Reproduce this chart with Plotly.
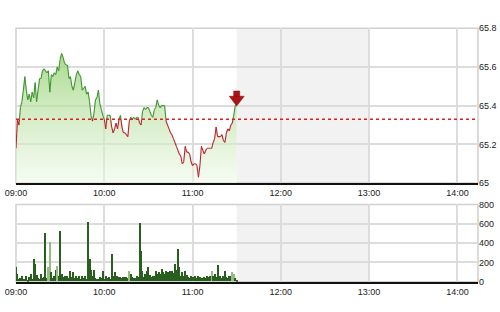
import plotly.graph_objects as go

# ---------------- data ----------------
# minutes after 09:00
price = [65.18, 65.33, 65.30, 65.39, 65.42, 65.48, 65.55, 65.48, 65.43, 65.46,
         65.42, 65.47, 65.44, 65.52, 65.42, 65.48, 65.54, 65.54, 65.58, 65.59,
         65.58, 65.57, 65.58, 65.47, 65.56, 65.55, 65.57, 65.56, 65.60, 65.58,
         65.64, 65.67, 65.65, 65.62, 65.61, 65.61, 65.54, 65.55, 65.50, 65.48,
         65.52, 65.56, 65.58, 65.56, 65.55, 65.48, 65.49, 65.50, 65.46, 65.47,
         65.42, 65.35, 65.32, 65.36, 65.43, 65.44, 65.48, 65.41, 65.38, 65.35,
         65.33, 65.28, 65.35, 65.35, 65.35, 65.29, 65.26, 65.28, 65.31, 65.28,
         65.33, 65.35, 65.29, 65.26, 65.26, 65.25, 65.24, 65.32, 65.34, 65.33,
         65.34, 65.33, 65.34, 65.34, 65.31, 65.30, 65.37, 65.39, 65.38, 65.39,
         65.39, 65.37, 65.35, 65.34, 65.38, 65.39, 65.43, 65.40, 65.39, 65.40,
         65.40, 65.40, 65.32, 65.30, 65.28, 65.26, 65.25, 65.23, 65.21, 65.19,
         65.17, 65.15, 65.14, 65.10, 65.11, 65.19, 65.16, 65.16, 65.15, 65.11,
         65.09, 65.10, 65.10, 65.09, 65.03, 65.09, 65.19, 65.17, 65.15, 65.17,
         65.18, 65.18, 65.18, 65.18, 65.21, 65.23, 65.29, 65.24, 65.24, 65.24,
         65.25, 65.22, 65.21, 65.26, 65.28, 65.27, 65.30, 65.31, 65.35, 65.40,
         65.40]
minutes = list(range(len(price)))

volume = [145, 80, 30, 40, 60, 25, 30, 53, 20, 47,
          73, 30, 230, 180, 63, 35, 30, 80, 40, 45,
          503, 40, 147, 403, 97, 40, 55, 120, 163, 60,
          523, 80, 45, 60, 35, 55, 40, 113, 50, 97,
          40, 55, 35, 53, 30, 55, 40, 55, 30, 613,
          230, 120, 60, 120, 40, 30, 25, 45, 35, 107,
          30, 55, 40, 45, 30, 280, 60, 97, 40, 55,
          50, 45, 35, 50, 45, 50, 35, 113, 80, 45,
          40, 35, 55, 45, 603, 313, 113, 45, 80, 113,
          147, 70, 45, 55, 60, 113, 80, 97, 80, 130,
          97, 80, 113, 97, 80, 113, 113, 90, 180, 120,
          330, 147, 60, 97, 55, 113, 70, 50, 40, 55,
          45, 40, 60, 35, 55, 45, 40, 35, 45, 40,
          55, 45, 60, 113, 60, 80, 50, 170, 45, 55,
          35, 60, 113, 50, 40, 60, 55, 97, 75, 40,
          20]
light_bars = [22, 23, 28, 77, 133, 147, 148]

ref_price = 65.33
tick_minutes = [0, 60, 120, 180, 240, 300]
tick_labels = ["09:00", "10:00", "11:00", "12:00", "13:00", "14:00"]
price_ticks = [65.0, 65.2, 65.4, 65.6, 65.8]
price_labels = ["65", "65.2", "65.4", "65.6", "65.8"]
vol_ticks = [0, 200, 400, 600, 800]
x_end = 314
lunch = (150, 240)

GREEN = "rgb(65,148,50)"
RED = "rgb(185,35,45)"

# ---------------- split line into green/red parts ----------------
gx, gy, rx, ry = [], [], [], []
for i in range(len(price) - 1):
    x0, y0, x1, y1 = minutes[i], price[i], minutes[i + 1], price[i + 1]
    a0, a1 = y0 >= ref_price, y1 >= ref_price
    if a0 == a1:
        tx, ty = (gx, gy) if a0 else (rx, ry)
        tx += [x0, x1, None]
        ty += [y0, y1, None]
    else:
        xc = x0 + (ref_price - y0) / (y1 - y0) * (x1 - x0)
        t0 = (gx, gy) if a0 else (rx, ry)
        t1 = (gx, gy) if a1 else (rx, ry)
        t0[0].extend([x0, xc, None]); t0[1].extend([y0, ref_price, None])
        t1[0].extend([xc, x1, None]); t1[1].extend([ref_price, y1, None])

fig = go.Figure()

# baseline for fill
fig.add_trace(go.Scatter(x=minutes, y=[price_ticks[0]] * len(minutes), mode="lines",
                         line=dict(width=0), hoverinfo="skip", showlegend=False,
                         xaxis="x", yaxis="y"))
fig.add_trace(go.Scatter(x=minutes, y=price, mode="lines", line=dict(width=0),
                         fill="tonexty",
                         fillgradient=dict(type="vertical",
                                           colorscale=[[0, "rgba(238,248,232,0.55)"],
                                                       [1, "rgba(150,210,115,0.8)"]]),
                         hoverinfo="skip", showlegend=False, xaxis="x", yaxis="y"))
fig.add_trace(go.Scatter(x=gx, y=gy, mode="lines", line=dict(color=GREEN, width=1.1),
                         hoverinfo="skip", showlegend=False, xaxis="x", yaxis="y"))
fig.add_trace(go.Scatter(x=rx, y=ry, mode="lines", line=dict(color=RED, width=1.1),
                         hoverinfo="skip", showlegend=False, xaxis="x", yaxis="y"))

# arrow marker above the last price
lx, ly = minutes[-1], price[-1]
fig.add_trace(go.Scatter(x=[lx], y=[ly + 0.06], mode="markers",
                         marker=dict(symbol="square", size=6, color="rgb(175,20,20)",
                                     line=dict(color="rgb(120,10,10)", width=0.5)),
                         hoverinfo="skip", showlegend=False, xaxis="x", yaxis="y"))
fig.add_trace(go.Scatter(x=[lx], y=[ly + 0.032], mode="markers",
                         marker=dict(symbol="triangle-down", size=13, color="rgb(175,20,20)",
                                     line=dict(color="rgb(120,10,10)", width=0.5)),
                         hoverinfo="skip", showlegend=False, xaxis="x", yaxis="y"))

# volume
bar_colors = ["rgb(150,188,130)" if i in light_bars else "rgb(40,95,30)" for i in minutes]
fig.add_trace(go.Bar(x=minutes, y=volume, marker=dict(color=bar_colors, line=dict(width=0)),
                     width=0.75, hoverinfo="skip", showlegend=False, xaxis="x2", yaxis="y2"))

font = dict(family="Liberation Sans, Arial, sans-serif", size=9, color="#222")
H = 312.0
top_dom = [1 - 184 / H, 1 - 24 / H]
bot_dom = [1 - 286 / H, 1 - 206 / H]

axis_common = dict(showgrid=True, gridcolor="#dcdcdc", gridwidth=1.5, zeroline=False,
                   tickfont=font, fixedrange=True)
fig.update_layout(
    width=500, height=312, margin=dict(l=16, r=22, t=0, b=0),
    paper_bgcolor="white", plot_bgcolor="white", showlegend=False, bargap=0,
    xaxis=dict(domain=[0, 1], range=[0, x_end], tickvals=tick_minutes, ticktext=tick_labels,
               showline=True, linecolor="#111", linewidth=2, anchor="y", **axis_common),
    yaxis=dict(domain=top_dom, range=[price_ticks[0], price_ticks[-1]], side="right",
               tickvals=price_ticks, ticktext=price_labels, anchor="x", **axis_common),
    xaxis2=dict(domain=[0, 1], range=[0, x_end], tickvals=tick_minutes, ticktext=tick_labels,
                showline=True, linecolor="#111", linewidth=2, anchor="y2", **axis_common),
    yaxis2=dict(domain=bot_dom, range=[0, 800], side="right", tickvals=vol_ticks,
                anchor="x2", **axis_common),
    shapes=[
        dict(type="rect", xref="x", yref="y domain", x0=lunch[0], x1=lunch[1], y0=0, y1=1,
             fillcolor="rgb(242,242,242)", line=dict(width=0), layer="below"),
        dict(type="rect", xref="x2", yref="y2 domain", x0=lunch[0], x1=lunch[1], y0=0, y1=1,
             fillcolor="rgb(242,242,242)", line=dict(width=0), layer="below"),
        dict(type="rect", xref="x domain", yref="y domain", x0=0, x1=1, y0=0, y1=1,
             line=dict(color="#d0d0d0", width=1.5), layer="below"),
        dict(type="rect", xref="x2 domain", yref="y2 domain", x0=0, x1=1, y0=0, y1=1,
             line=dict(color="#d0d0d0", width=1.5), layer="below"),
        dict(type="line", xref="x domain", yref="y", x0=0, x1=1, y0=ref_price, y1=ref_price,
             line=dict(color="rgb(220,30,30)", width=1.5, dash="dot")),
    ],
)
fig.write_html("out.html", config={"displayModeBar": False})
